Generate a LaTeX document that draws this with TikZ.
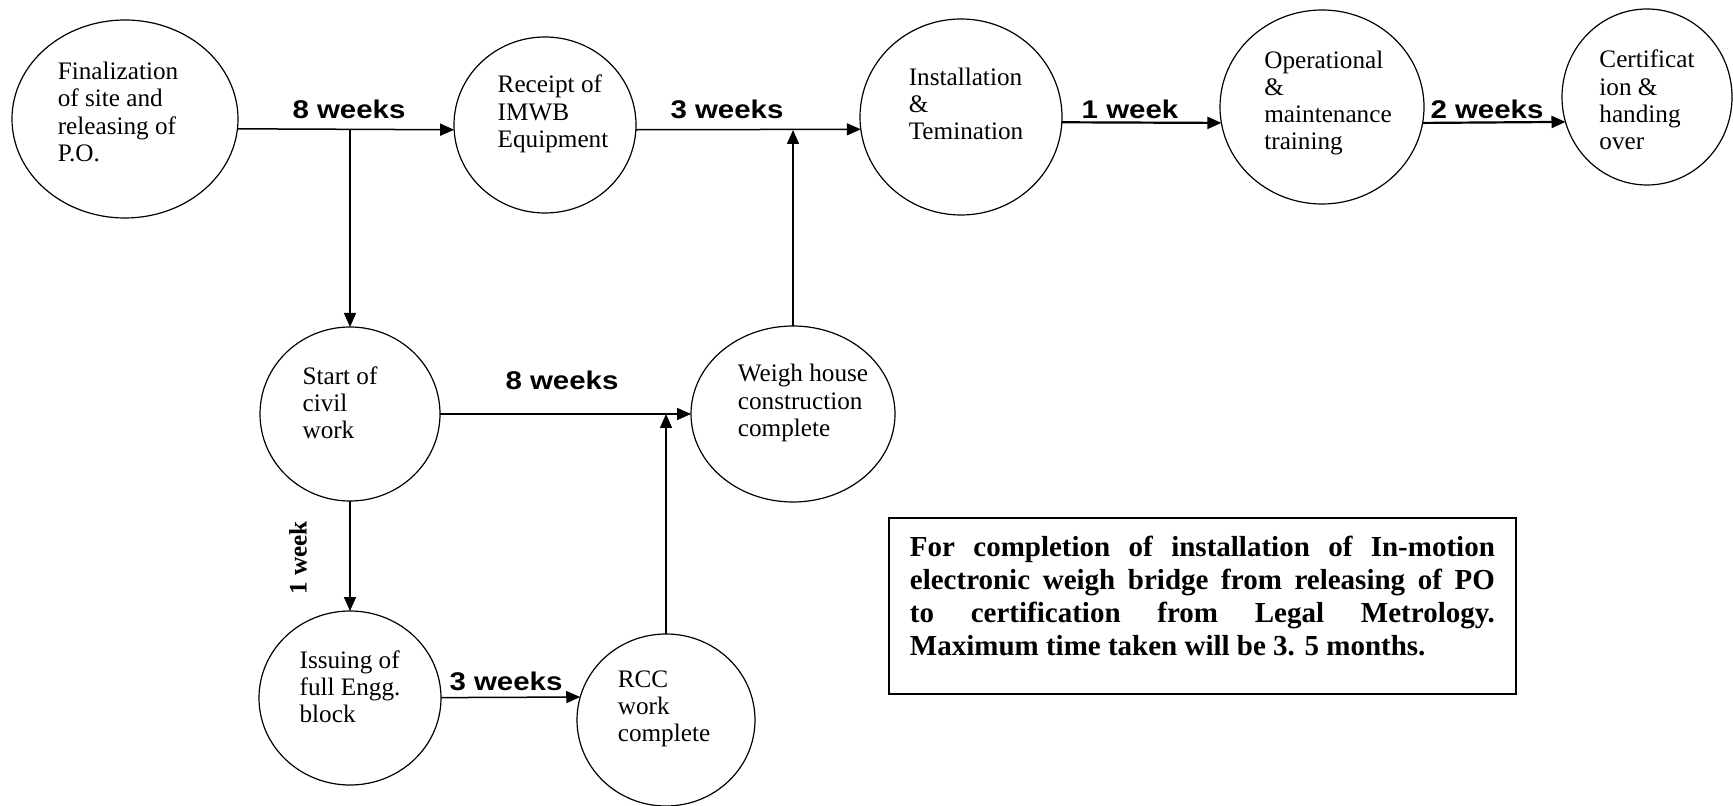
\documentclass[tikz,border=0pt]{standalone}
\usepackage{fontspec}
\setmainfont{Liberation Serif}
\newfontfamily\durfont[FakeStretch=1.15]{Liberation Sans}
\usepackage{graphicx}
\newcommand*\upText[1]{%
	\rotatebox[origin=c]{90}{\textbf{#1}}
}
\usepackage{tikz}
\usetikzlibrary{arrows.meta}
\usetikzlibrary{shapes}

\begin{document}
\begin{tikzpicture}[
            	    event/.style = { ellipse, draw, black, line width = 0.6pt, inner sep=0pt, outer sep=0pt },
            		txt/.style = { align = left, inner sep=0pt, yshift = 5.5pt, font = \fontsize{12.6}{13.6}\selectfont },
            		dur/.style = { inner sep=0pt, font = \durfont\bfseries\fontsize{12.8}{14}\selectfont },
            		side/.style = { inner sep=0pt, font = \fontsize{12.6}{14}\selectfont },
            		note/.style = { draw, line width = 0.9pt, anchor = north west, text width = 292.5pt, inner xsep = 10.5pt, minimum height = 88pt, align = justify, font = \bfseries\fontsize{14.5}{16.5}\selectfont },
            		heavy/.style = { line width = 1.1pt },
            		>={Triangle[length=7pt,width=6pt]},
            		every edge/.append style = { line width = 0.75pt },
            		]
            		\def\oneUnit{0.5pt}
            		
            		\useasboundingbox (0,0) rectangle (1733*\oneUnit,-806*\oneUnit);
            		
            		\node[event, minimum width = 226*\oneUnit, minimum height = 198*\oneUnit, label = {[txt, xshift=-3.5pt, yshift=-2pt]center:Finalization\\of site and\\releasing of\\P.O.}] (FIN) at (125*\oneUnit,-119*\oneUnit) {};
            		\node[event, minimum width = 182*\oneUnit, minimum height = 176*\oneUnit, label = {[txt, xshift=4pt]center:Receipt of\\IMWB\\Equipment}] (IMWB) at (545*\oneUnit,-125*\oneUnit) {};
            		\node[event, minimum width = 202*\oneUnit, minimum height = 196*\oneUnit, label = {[txt, xshift=2.5pt, yshift=1pt]center:Installation\\\&\\Temination}] (INST) at (961*\oneUnit,-117*\oneUnit) {};
            		\node[event, minimum width = 204*\oneUnit, minimum height = 194*\oneUnit, label = {[txt, xshift=3pt, yshift=-3.5pt]center:Operational\\\&\\maintenance\\training}] (OPER) at (1322*\oneUnit,-107*\oneUnit) {};
            		\node[event, minimum width = 170*\oneUnit, minimum height = 176*\oneUnit, label = {[txt, yshift=-7pt]center:Certificat\\ion \&\\handing\\over}] (CERT) at (1647*\oneUnit,-97*\oneUnit) {};
            		
            		\node[event, minimum width = 180*\oneUnit, minimum height = 174*\oneUnit, label = {[txt, xshift=-5pt]center:Start of\\civil\\work}] (CIVIL) at (350*\oneUnit,-414*\oneUnit) {};
            		\node[event, minimum width = 204*\oneUnit, minimum height = 176*\oneUnit, label = {[txt, xshift=5pt]center:Weigh house\\construction\\complete}] (WEIGH) at (793*\oneUnit,-414*\oneUnit) {};
            		\node[event, minimum width = 182*\oneUnit, minimum height = 174*\oneUnit, label = {[txt]center:Issuing of\\full Engg.\\block}] (ENGG) at (350*\oneUnit,-698*\oneUnit) {};
            		\node[event, minimum width = 178*\oneUnit, minimum height = 172*\oneUnit, label = {[txt, xshift=-1pt]center:RCC\\work\\complete}] (RCC) at (666*\oneUnit,-720*\oneUnit) {};
            		
            		\coordinate (jA) at (350*\oneUnit,-130*\oneUnit);
            		\coordinate (jB) at (793*\oneUnit,-130*\oneUnit);
            		\coordinate (jC) at (666*\oneUnit,-414*\oneUnit);
            		
            		\node[dur] (wkFIN) at (349*\oneUnit,-109*\oneUnit) {8 weeks};
            		\node[dur] (wkIMWB) at (727*\oneUnit,-109*\oneUnit) {3 weeks};
            		\node[dur] (wkINST) at (1130*\oneUnit,-109*\oneUnit) {1 week};
            		\node[dur] (wkOPER) at (1487*\oneUnit,-109*\oneUnit) {2 weeks};
            		\node[dur] (wkCIVIL) at (562*\oneUnit,-380*\oneUnit) {8 weeks};
            		\node[dur] (wkENGG) at (506*\oneUnit,-681*\oneUnit) {3 weeks};
            		\node[side] (wkSIDE) at (298*\oneUnit,-558*\oneUnit) {\upText{1 week}};
            		
            		\node[note] (NOTE) at (888*\oneUnit,-517*\oneUnit) {For completion of installation of In-motion\linebreak electronic weigh bridge from releasing of PO\linebreak to certification from Legal Metrology.\linebreak Maximum time taken will be 3. 5 months.\rule[-10.5pt]{0pt}{0pt}};
            		
    				\path[->] (FIN.-5.6) edge [] (IMWB.183.1);
    				\path[->] (IMWB.-3.1) edge [] (INST.187.4);
    				\path[->] (INST.-3.4) edge [heavy] (OPER.189);
    				\path[->] (OPER.-9) edge [heavy] (CERT.197.8);
            		
    				\path[->] (jA) edge [] (CIVIL);
            		\path[->] (WEIGH) edge [] (jB);
            		\path[->] (CIVIL) edge [] (WEIGH);
            		\path[->] (CIVIL) edge [] (ENGG);
            		\path[->] (ENGG) edge [] (RCC.165.6);
            		\path[->] (RCC) edge [] (jC);
            		
            		\end{tikzpicture}
\end{document}
